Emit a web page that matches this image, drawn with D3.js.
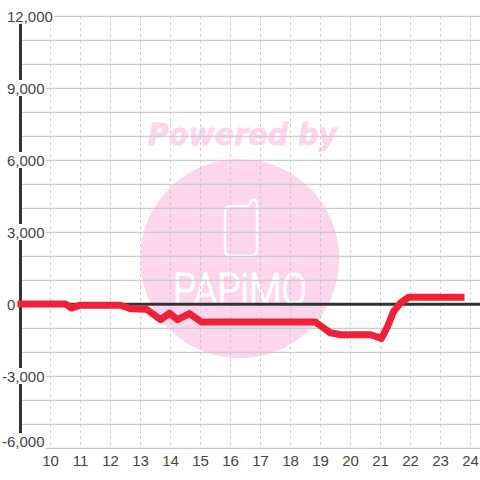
<!DOCTYPE html>
<html><head><meta charset="utf-8">
<script src="https://cdn.jsdelivr.net/npm/d3@7"></script>
<style>html,body{margin:0;padding:0;background:#fff}svg{display:block}</style>
</head><body><svg id="c" width="480" height="480"></svg>
<script>
const hours = [8.9,10.5,10.7,11,12.33,12.67,13.2,13.67,13.97,14.23,14.63,15.03,18.83,19.33,19.67,20.67,21.03,21.23,21.43,21.67,21.93,23.8];
const values = [0,0,-170,-50,-50,-200,-220,-650,-380,-650,-400,-750,-750,-1200,-1280,-1280,-1430,-950,-330,50,280,280];
const xTicks = [10,11,12,13,14,15,16,17,18,19,20,21,22,23,24];
const yGrid = d3.range(-6000,12001,1000);
const yLabels = [12000,9000,6000,3000,0,-3000,-6000];

const svg = d3.select('#c');
const x = d3.scaleLinear().domain([9,25]).range([20.5,500.5]);
const y = d3.scaleLinear().domain([-6000,12000]).range([448,16]);
const W = 480;

// watermark
const wm = svg.append('g');
wm.append('text').text('Powered by').attr('x',148).attr('y',145)
  .attr('textLength',189).attr('lengthAdjust','spacingAndGlyphs')
  .attr('font-family','DejaVu Sans').attr('font-weight','bold')
  .attr('font-style','italic').attr('font-size',30).attr('fill','#fcd6ec')
  .attr('stroke','#fcd6ec').attr('stroke-width',0.8);
wm.append('circle').attr('cx',239.7).attr('cy',258.7).attr('r',99.5).attr('fill','#fcd6ec');
wm.append('path').attr('d','M231,206 H246 Q250,206 250,203 Q251,200 254,200 Q257,200 257,204 V250 Q257,256 251,256 H231 Q225,256 225,250 V212 Q225,206 231,206 Z')
  .attr('fill','none').attr('stroke','#fff').attr('stroke-width',2.4);
wm.append('text').text('PAPiMO').attr('x',173).attr('y',305)
  .attr('textLength',134).attr('lengthAdjust','spacingAndGlyphs')
  .attr('font-family','Roboto').attr('font-weight',300).attr('font-size',45).attr('fill','#fff')
  .attr('stroke','#fff').attr('stroke-width',1.2);

// grid
svg.append('g').selectAll('line').data(yGrid).join('line')
  .attr('x1',20).attr('x2',W).attr('y1',d=>y(d)+0.3).attr('y2',d=>y(d)+0.3)
  .attr('stroke','#ccc').attr('stroke-width',1.2);
svg.append('g').selectAll('line').data(xTicks).join('line')
  .attr('x1',d=>x(d)).attr('x2',d=>x(d)).attr('y1',16).attr('y2',448)
  .attr('stroke','#ccc').attr('stroke-width',1).attr('stroke-dasharray','3,3');

// axes
svg.append('line').attr('x1',20).attr('x2',20).attr('y1',16).attr('y2',448).attr('stroke','#333').attr('stroke-width',3).attr('transform','translate(0.5,0)');
svg.append('line').attr('x1',20).attr('x2',W).attr('y1',y(0)+0.3).attr('y2',y(0)+0.3).attr('stroke','#333').attr('stroke-width',3);

// y labels with opaque backing
const fmt = d3.format(',');
const yl = svg.append('g').attr('font-family','Liberation Sans').attr('font-size',15).attr('fill','#444');
yLabels.forEach(v=>{
  const cy = v===-6000 ? y(v)-7 : y(v);
  const t = yl.append('text').text(fmt(v).replace('−','-')).attr('x',v<0?2:7).attr('y',cy+5.5);
  const b = t.node().getBBox();
  if (v!==0) yl.insert('rect','text').attr('x',b.x-1).attr('y',cy-8).attr('width',b.width+2).attr('height',16).attr('fill','#fff');
});

// x labels
svg.append('g').attr('font-family','Liberation Sans').attr('font-size',15).attr('fill','#444')
  .selectAll('text').data(xTicks).join('text').text(d=>d)
  .attr('x',d=>x(d)).attr('y',466).attr('text-anchor','middle');

// series
svg.append('path').datum(hours.map((h,i)=>[h,values[i]]))
  .attr('d',d3.line().x(d=>x(d[0])).y(d=>y(d[1])))
  .attr('fill','none').attr('stroke','#f02036').attr('stroke-width',7).attr('stroke-linejoin','round');
</script></body></html>
